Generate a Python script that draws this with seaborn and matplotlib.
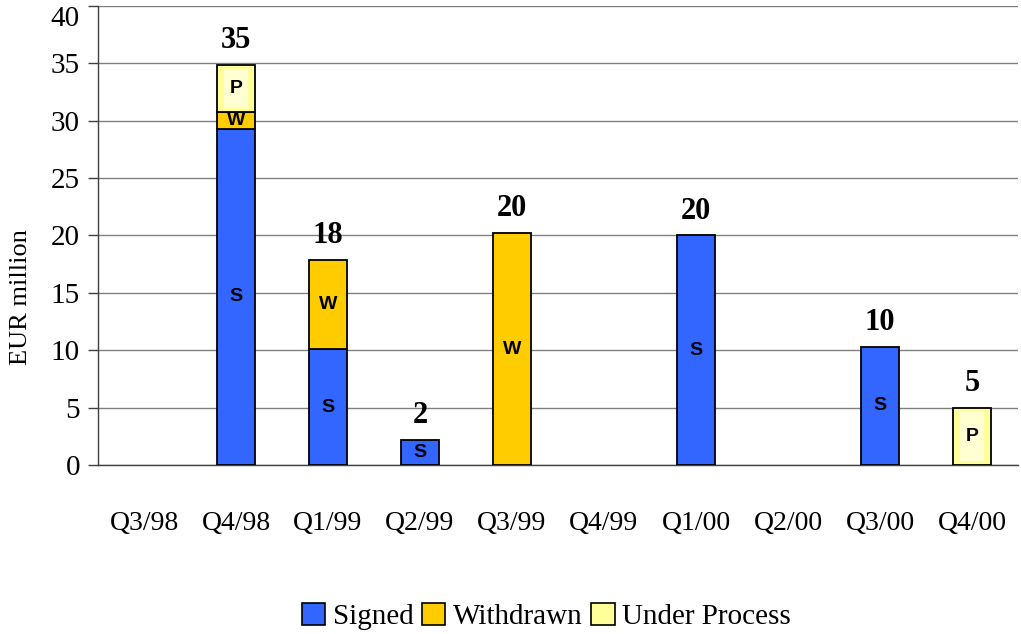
import matplotlib
matplotlib.use("Agg")
import matplotlib.pyplot as plt
from matplotlib.patches import Patch
from matplotlib.ticker import FixedLocator
import seaborn as sns
import pandas as pd

# data (EUR million)
quarters = ["Q3/98", "Q4/98", "Q1/99", "Q2/99", "Q3/99", "Q4/99", "Q1/00", "Q2/00", "Q3/00", "Q4/00"]
signed = [0, 29.3, 10.1, 2.2, 0, 0, 20.0, 0, 10.3, 0]
withdrawn = [0, 1.5, 7.8, 0, 20.2, 0, 0, 0, 0, 0]
under_process = [0, 4.1, 0, 0, 0, 0, 0, 0, 0, 5.0]
total_labels = ["", "35", "18", "2", "20", "", "20", "", "10", "5"]
y_ticks = [0, 5, 10, 15, 20, 25, 30, 35, 40]

series = [
    ("Signed", "S", signed, "#3366FF"),
    ("Withdrawn", "W", withdrawn, "#FFCC00"),
    ("Under Process", "P", under_process, "#FFFF99"),
]

sns.set_style("white")
plt.rcParams["font.family"] = ["Liberation Serif", "DejaVu Serif"]
plt.rcParams["text.color"] = "black"
plt.rcParams["axes.labelcolor"] = "black"
plt.rcParams["xtick.color"] = "black"
plt.rcParams["ytick.color"] = "black"

fig = plt.figure(figsize=(10.21, 6.34), dpi=100)
ax = fig.add_axes([0.096, 0.2666, 0.901, 0.7239])

bar_width = 0.41
bottoms = [0.0] * len(quarters)
for name, letter, vals, color in series:
    df = pd.DataFrame({"quarter": quarters, "value": vals, "bottom": bottoms})
    sub = df[df["value"] > 0]
    sns.barplot(data=sub, x="quarter", y="value", order=quarters, color=color,
                bottom=sub["bottom"].values, width=bar_width, errorbar=None,
                edgecolor="black", linewidth=1.3, saturation=1, ax=ax, zorder=3)
    if letter == "P":
        # lighter inner shading like the original fill effect
        sns.barplot(data=sub, x="quarter", y=sub["value"] - 0.7, order=quarters,
                    color="#FFFFD2", bottom=sub["bottom"].values + 0.35,
                    width=bar_width * 0.62, errorbar=None, linewidth=0,
                    saturation=1, ax=ax, zorder=3.5)
    for _, row in sub.iterrows():
        i = quarters.index(row["quarter"])
        ax.text(i, row["bottom"] + row["value"] / 2, letter, ha="center", va="center",
                fontsize=14, fontweight="semibold", family="Liberation Sans", zorder=4)
    bottoms = [b + v for b, v in zip(bottoms, vals)]

# totals above the bars
for i, lab in enumerate(total_labels):
    if lab:
        ax.annotate(lab, (i, bottoms[i]), xytext=(0, 7), textcoords="offset points",
                    ha="center", va="bottom", fontsize=22, fontweight="bold", zorder=5)

ax.set_xlim(-0.5, len(quarters) - 0.5)
ax.set_ylim(0, 40)
ax.yaxis.set_major_locator(FixedLocator(y_ticks))
ax.grid(axis="y", color="#808080", linewidth=1.0, zorder=0)
ax.set_axisbelow(True)

for s in ["top", "right"]:
    ax.spines[s].set_visible(False)
for s in ["left", "bottom"]:
    ax.spines[s].set_color("#404040")
    ax.spines[s].set_linewidth(1.0)

# tick marks between categories
ax.xaxis.set_minor_locator(FixedLocator([i - 0.5 for i in range(len(quarters) + 1)]))
ax.tick_params(axis="x", which="major", length=0, pad=33, labelsize=20)
ax.tick_params(axis="x", which="minor", length=7, width=1, color="#404040", direction="out")
ax.tick_params(axis="y", length=7, width=1, color="#404040", labelcolor="black",
               direction="out", pad=6, labelsize=21, left=True)

# keep the top label inside the figure
ax.yaxis.get_major_ticks()[-1].label1.set_verticalalignment("top")

ax.set_xlabel("")
ax.set_ylabel("EUR million", fontsize=19)
ax.yaxis.set_label_coords(-0.072, 0.365)

handles = [Patch(facecolor=c, edgecolor="black", linewidth=1.2, label=n) for n, _, _, c in series]
fig.legend(handles=handles, loc="lower center", bbox_to_anchor=(0.535, -0.035), ncol=3,
           frameon=False, fontsize=21, handlelength=0.8, handleheight=0.8,
           handletextpad=0.25, columnspacing=0.3)

fig.savefig("out.png", dpi=100)
